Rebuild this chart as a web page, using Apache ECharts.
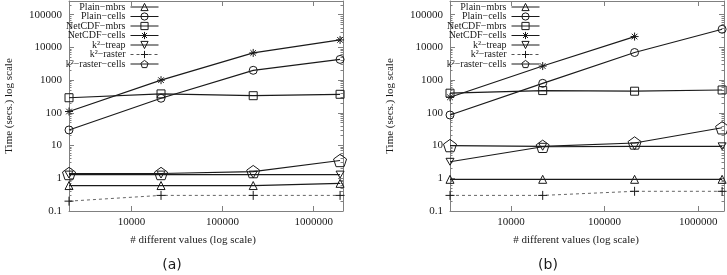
<!DOCTYPE html>
<html>
<head>
<meta charset="utf-8">
<script src="https://cdn.jsdelivr.net/npm/echarts@6/dist/echarts.min.js"></script>
<style>
html,body{margin:0;padding:0;background:#fff;}
#c{width:727px;height:275px;}
</style>
</head>
<body>
<div id="c"></div>
<script>
// ---- data ----
const seriesNames = ['Plain−mbrs', 'Plain−cells', 'NetCDF−mbrs', 'NetCDF−cells', 'k²−treap', 'k²−raster', 'k²−raster−cells'];
const xValuesA = [2060, 21100, 217000, 1950000];
const xValuesB = [2230, 21800, 209000, 1800000];

const plainMbrsA     = [0.6, 0.6, 0.6, 0.7];
const plainCellsA    = [30, 280, 2000, 4300];
const netcdfMbrsA    = [290, 380, 335, 370];
const netcdfCellsA   = [110, 1000, 6800, 17000];
const k2TreapA       = [1.3, 1.3, 1.3, 1.3];
const k2RasterA      = [0.2, 0.3, 0.3, 0.3];
const k2RasterCellsA = [1.4, 1.4, 1.6, 3.5];

const plainMbrsB     = [0.93, 0.93, 0.93, 0.93];
const plainCellsB    = [86, 800, 7000, 36000];
const netcdfMbrsB    = [400, 480, 460, 500];
const netcdfCellsB   = [300, 2700, 21500, null];
const k2TreapB       = [3.2, 9.2, 9.5, 9.5];
const k2RasterB      = [0.3, 0.3, 0.4, 0.4];
const k2RasterCellsB = [10, 9.5, 12, 35];

const yTickValues = [0.1, 1, 10, 100, 1000, 10000, 100000];
const yTickLabels = ['0.1', '1', '10', '100', '1000', '10000', '100000'];
const xTickValues = [10000, 100000, 1000000];
const xTickLabels = ['10000', '100000', '1000000'];

const yAxisTitle = 'Time (secs.) log scale';
const xAxisTitle = '# different values (log scale)';
const panelTitles = ['(a)', '(b)'];

// ---- rendering ----
const serif = '"Liberation Serif", "DejaVu Serif", serif';
const frame = '#808080';
const ink = '#1a1a1a';

function labelFrom(values, labels) {
  return function (v) {
    for (let i = 0; i < values.length; i++) {
      if (Math.abs(Math.log10(v) - Math.log10(values[i])) < 1e-6) return labels[i];
    }
    return '';
  };
}

const symbols = {
  up: 'triangle',
  circle: 'circle',
  square: 'rect',
  star: 'path://M5,0L5,10M0,5L10,5M1.5,1.5L8.5,8.5M8.5,1.5L1.5,8.5',
  down: 'path://M0,0L10,0L5,8.66Z',
  plus: 'path://M5,0L5,10M0,5L10,5',
  pentagon: 'path://M5,0L9.76,3.45L7.94,9.05L2.06,9.05L0.24,3.45Z'
};
const styleList = [
  { sym: symbols.up, size: 8 },
  { sym: symbols.circle, size: 8 },
  { sym: symbols.square, size: 8 },
  { sym: symbols.star, size: 8 },
  { sym: symbols.down, size: 8 },
  { sym: symbols.plus, size: 9, dashed: true },
  { sym: symbols.pentagon, size: 13 }
];

function makeSeries(panel, xs, ys, idx) {
  const st = styleList[idx];
  const data = [];
  xs.forEach((x, i) => { if (ys[i] != null) data.push([x, ys[i]]); });
  return {
    type: 'line',
    name: seriesNames[idx],
    xAxisIndex: panel * 2,
    yAxisIndex: panel * 2,
    data: data,
    symbol: st.sym,
    symbolSize: st.size,
    symbolKeepAspect: true,
    showAllSymbol: true,
    clip: false,
    lineStyle: st.dashed ? { color: '#555', width: 0.9, type: [3, 3] } : { color: ink, width: 1.2 },
    itemStyle: { color: 'rgba(255,255,255,0)', borderColor: ink, borderWidth: 1 },
    emphasis: { disabled: true },
    z: 3
  };
}

const panelA = [plainMbrsA, plainCellsA, netcdfMbrsA, netcdfCellsA, k2TreapA, k2RasterA, k2RasterCellsA];
const panelB = [plainMbrsB, plainCellsB, netcdfMbrsB, netcdfCellsB, k2TreapB, k2RasterB, k2RasterCellsB];

const series = [];
panelA.forEach((ys, i) => series.push(makeSeries(0, xValuesA, ys, i)));
panelB.forEach((ys, i) => series.push(makeSeries(1, xValuesB, ys, i)));

const yMin = 0.1, yMax = 263000;
const xRanges = [[2060, 2100000], [2230, 1885000]];

function xAxisPair(g) {
  const base = {
    gridIndex: g, type: 'log', logBase: 10, min: xRanges[g][0], max: xRanges[g][1],
    splitLine: { show: false },
    axisLine: { show: true, onZero: false, lineStyle: { color: frame, width: 1 } },
    axisTick: { show: true, inside: true, length: 5, lineStyle: { color: frame } }
  };
  return [
    Object.assign({}, base, {
      position: 'bottom',
      axisLabel: { formatter: labelFrom(xTickValues, xTickLabels), fontFamily: serif, fontSize: 11, color: ink, margin: 6 }
    }),
    Object.assign({}, base, { position: 'top', axisLabel: { show: false } })
  ];
}
function yAxisPair(g) {
  const base = {
    gridIndex: g, type: 'log', logBase: 10, min: yMin, max: yMax,
    splitLine: { show: false },
    axisLine: { show: true, onZero: false, lineStyle: { color: frame, width: 1 } },
    axisTick: { show: true, inside: true, length: 5, lineStyle: { color: frame } },
    minorTick: { show: true, splitNumber: 9, length: 2.5, lineStyle: { color: frame } }
  };
  return [
    Object.assign({}, base, {
      position: 'left',
      name: yAxisTitle, nameLocation: 'middle', nameGap: 54, nameRotate: 90,
      nameTextStyle: { fontFamily: serif, fontSize: 11, color: ink },
      axisLabel: { formatter: labelFrom(yTickValues, yTickLabels), fontFamily: serif, fontSize: 11, color: ink, margin: 7 }
    }),
    Object.assign({}, base, { position: 'right', axisLabel: { show: false } })
  ];
}

function legendFor(g, right) {
  return {
    show: true,
    data: seriesNames,
    orient: 'vertical',
    align: 'right',
    right: right,
    top: 2,
    itemWidth: 28,
    itemHeight: 9,
    itemGap: -0.5,
    padding: 0,
    selectedMode: false,
    lineStyle: { width: 1 },
    itemStyle: { color: 'rgba(255,255,255,0)', borderColor: ink, borderWidth: 1 },
    textStyle: { fontFamily: serif, fontSize: 10, color: ink, lineHeight: 9 }
  };
}

const option = {
  animation: false,
  backgroundColor: '#fff',
  grid: [
    { left: 69, top: 1, width: 274, height: 210 },
    { left: 450, top: 1, width: 274, height: 210 }
  ],
  xAxis: xAxisPair(0).concat(xAxisPair(1)),
  yAxis: yAxisPair(0).concat(yAxisPair(1)),
  legend: [legendFor(0, 727 - 159), legendFor(1, 727 - 540)],
  graphic: [
    { type: 'text', x: 193, y: 240, style: { text: xAxisTitle, font: '11px ' + serif, fill: ink, textAlign: 'center', textVerticalAlign: 'middle' } },
    { type: 'text', x: 576, y: 240, style: { text: xAxisTitle, font: '11px ' + serif, fill: ink, textAlign: 'center', textVerticalAlign: 'middle' } },
    { type: 'text', x: 172, y: 265, style: { text: panelTitles[0], font: '14px "DejaVu Sans", sans-serif', fill: ink, textAlign: 'center', textVerticalAlign: 'middle' } },
    { type: 'text', x: 548, y: 265, style: { text: panelTitles[1], font: '14px "DejaVu Sans", sans-serif', fill: ink, textAlign: 'center', textVerticalAlign: 'middle' } }
  ],
  series: series
};

const chart = echarts.init(document.getElementById('c'), null, { renderer: 'canvas' });
chart.setOption(option);
</script>
</body>
</html>
